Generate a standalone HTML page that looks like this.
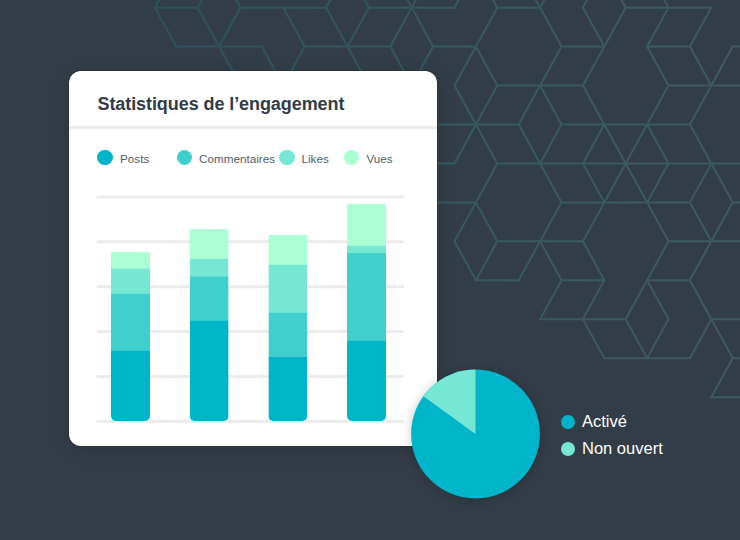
<!DOCTYPE html>
<html><head><meta charset="utf-8">
<style>
html,body{margin:0;padding:0;}
body{width:740px;height:540px;overflow:hidden;background:#333d47;position:relative;font-family:"Liberation Sans",Arial,sans-serif;}
#bg{position:absolute;left:0;top:0;}
.card{position:absolute;left:69px;top:71px;width:368px;height:375px;background:#fff;border-radius:12px;box-shadow:0 0 2px rgba(0,0,0,0.35),0 4px 18px rgba(0,0,0,0.12);}
.title{position:absolute;left:97.5px;top:94px;font-weight:bold;font-size:18px;letter-spacing:-0.08px;color:#313c47;white-space:nowrap;}
.sep{position:absolute;left:69px;top:126px;width:368px;height:3px;background:#ececec;}
.lg{position:absolute;top:151px;height:15px;font-size:12px;color:#48525c;white-space:nowrap;}
.dot{position:absolute;width:15.3px;height:15.3px;border-radius:50%;}
.lt{position:absolute;top:152px;font-size:11.7px;color:#535c66;white-space:nowrap;}
#chart{position:absolute;left:0;top:0;}
.pl{position:absolute;font-size:16.5px;color:#fff;white-space:nowrap;}
</style></head><body>
<svg id="bg" width="740" height="540"><defs><linearGradient id="lg" gradientUnits="userSpaceOnUse" x1="150" y1="0" x2="740" y2="0"><stop offset="0" stop-color="#2b525a"/><stop offset="0.55" stop-color="#355a5e"/><stop offset="1" stop-color="#3e5b5f"/></linearGradient></defs><path fill="none" stroke="url(#lg)" stroke-width="2" stroke-linejoin="miter" stroke-linecap="square" d="M154.9 7.64L176.3 -31.31M154.9 7.64L197.7 7.64M197.7 7.64L219.1 -31.31M154.9 7.64L176.3 46.59M197.7 7.64L219.1 46.59M219.1 46.59L240.5 7.64M219.1 -31.31L240.5 7.64M240.5 7.64L283.3 7.64M176.3 46.59L219.1 46.59M219.1 46.59L261.9 46.59M219.1 46.59L240.5 85.54M261.9 46.59L283.3 85.54M283.3 7.64L304.7 46.59M283.3 85.54L304.7 46.59M283.3 7.64L326.1 7.64M326.1 7.64L347.5 -31.31M326.1 7.64L347.5 46.59M304.7 46.59L347.5 46.59M347.5 46.59L390.3 46.59M368.9 7.64L411.7 7.64M411.7 7.64L454.5 7.64M347.5 -31.31L368.9 7.64M347.5 46.59L368.9 7.64M390.3 -31.31L411.7 7.64M411.7 7.64L433.1 -31.31M390.3 46.59L411.7 7.64M411.7 7.64L433.1 46.59M433.1 46.59L475.9 46.59M411.7 85.54L433.1 46.59M390.3 46.59L411.7 85.54M347.5 46.59L368.9 85.54M454.5 7.64L475.9 -31.31M475.9 -31.31L497.3 7.64M497.3 7.64L540.1 7.64M518.7 -31.31L540.1 7.64M540.1 7.64L561.5 -31.31M582.9 7.64L604.3 -31.31M582.9 7.64L604.3 46.59M475.9 46.59L497.3 7.64M454.5 85.54L475.9 46.59M475.9 46.59L497.3 85.54M540.1 7.64L561.5 46.59M561.5 46.59L604.3 46.59M540.1 85.54L561.5 46.59M582.9 85.54L604.3 46.59M454.5 85.54L475.9 124.49M497.3 85.54L540.1 85.54M475.9 124.49L497.3 85.54M540.1 85.54L582.9 85.54M518.7 124.49L540.1 85.54M540.1 85.54L561.5 124.49M582.9 85.54L604.3 124.49M433.1 124.49L475.9 124.49M475.9 124.49L518.7 124.49M561.5 124.49L604.3 124.49M454.5 163.44L475.9 124.49M475.9 124.49L497.3 163.44M518.7 124.49L540.1 163.44M540.1 163.44L561.5 124.49M582.9 163.44L604.3 124.49M411.7 163.44L454.5 163.44M497.3 163.44L540.1 163.44M540.1 163.44L582.9 163.44M582.9 163.44L625.7 163.44M604.3 -31.31L625.7 7.64M625.7 7.64L668.5 7.64M647.1 -31.31L668.5 7.64M668.5 7.64L711.3 7.64M689.9 46.59L711.3 7.64M604.3 46.59L625.7 7.64M647.1 46.59L668.5 7.64M647.1 46.59L689.9 46.59M647.1 46.59L668.5 85.54M689.9 46.59L711.3 85.54M732.7 46.59L775.5 46.59M711.3 85.54L732.7 46.59M668.5 85.54L711.3 85.54M711.3 85.54L754.1 85.54M647.1 124.49L668.5 85.54M689.9 124.49L711.3 85.54M604.3 124.49L647.1 124.49M647.1 124.49L689.9 124.49M475.9 202.39L497.3 163.44M540.1 163.44L561.5 202.39M582.9 163.44L604.3 202.39M433.1 202.39L475.9 202.39M454.5 241.34L475.9 202.39M475.9 202.39L497.3 241.34M561.5 202.39L604.3 202.39M540.1 241.34L561.5 202.39M582.9 241.34L604.3 202.39M604.3 124.49L625.7 163.44M625.7 163.44L647.1 124.49M647.1 124.49L668.5 163.44M689.9 124.49L711.3 163.44M625.7 163.44L668.5 163.44M668.5 163.44L711.3 163.44M711.3 163.44L754.1 163.44M625.7 163.44L647.1 202.39M604.3 202.39L625.7 163.44M647.1 202.39L668.5 163.44M689.9 202.39L711.3 163.44M711.3 163.44L732.7 202.39M604.3 202.39L647.1 202.39M647.1 202.39L689.9 202.39M732.7 202.39L775.5 202.39M647.1 202.39L668.5 241.34M689.9 202.39L711.3 241.34M711.3 241.34L732.7 202.39M454.5 241.34L475.9 280.29M497.3 241.34L540.1 241.34M475.9 280.29L497.3 241.34M540.1 241.34L582.9 241.34M518.7 280.29L540.1 241.34M540.1 241.34L561.5 280.29M582.9 241.34L604.3 280.29M475.9 280.29L518.7 280.29M561.5 280.29L604.3 280.29M540.1 319.24L561.5 280.29M582.9 319.24L604.3 280.29M540.1 319.24L582.9 319.24M582.9 319.24L625.7 319.24M582.9 319.24L604.3 358.19M668.5 241.34L711.3 241.34M711.3 241.34L754.1 241.34M647.1 280.29L668.5 241.34M689.9 280.29L711.3 241.34M647.1 280.29L689.9 280.29M625.7 319.24L647.1 280.29M647.1 280.29L668.5 319.24M689.9 280.29L711.3 319.24M625.7 319.24L647.1 358.19M647.1 358.19L668.5 319.24M711.3 319.24L754.1 319.24M689.9 358.19L711.3 319.24M711.3 319.24L732.7 358.19M604.3 358.19L647.1 358.19M647.1 358.19L689.9 358.19M732.7 358.19L775.5 358.19M711.3 397.14L732.7 358.19M711.3 397.14L754.1 397.14"/></svg>
<div class="card"></div>
<div class="title">Statistiques de l’engagement</div>
<div class="sep"></div>
<div class="dot" style="left:97.3px;top:150.2px;background:#00b4ca"></div>
<div class="lt" style="left:120px">Posts</div>
<div class="dot" style="left:176.8px;top:150.2px;background:#3fd0cd"></div>
<div class="lt" style="left:199px">Commentaires</div>
<div class="dot" style="left:279.3px;top:150.2px;background:#75e7d2"></div>
<div class="lt" style="left:301.5px">Likes</div>
<div class="dot" style="left:343.6px;top:150.2px;background:#aaffd5"></div>
<div class="lt" style="left:366.5px">Vues</div>
<svg id="chart" width="740" height="540">
<g stroke="#ebebeb" stroke-width="3" stroke-linecap="round">
<line x1="98" y1="196.90" x2="402.5" y2="196.90"/>
<line x1="98" y1="241.78" x2="402.5" y2="241.78"/>
<line x1="98" y1="286.66" x2="402.5" y2="286.66"/>
<line x1="98" y1="331.54" x2="402.5" y2="331.54"/>
<line x1="98" y1="376.42" x2="402.5" y2="376.42"/>
<line x1="98" y1="421.30" x2="402.5" y2="421.30"/>
</g>
<defs>
<clipPath id="bc"><path d="M0 0H39V416A5 5 0 0 1 34 421H5A5 5 0 0 1 0 416Z"/></clipPath>
</defs>
<g clip-path="url(#bc)" transform="translate(111,0)">
<rect x="0" y="252" width="39" height="17" fill="#aaffd5"/>
<rect x="0" y="268.7" width="39" height="25.3" fill="#75e7d2"/>
<rect x="0" y="293.8" width="39" height="57.2" fill="#3fd0cd"/>
<rect x="0" y="350.8" width="39" height="80" fill="#00b4ca"/>
</g>
<g clip-path="url(#bc)" transform="translate(189.7,0)">
<rect x="0" y="229.2" width="39" height="30" fill="#aaffd5"/>
<rect x="0" y="259" width="39" height="17.5" fill="#75e7d2"/>
<rect x="0" y="276.3" width="39" height="44.7" fill="#3fd0cd"/>
<rect x="0" y="320.8" width="39" height="110" fill="#00b4ca"/>
</g>
<g clip-path="url(#bc)" transform="translate(268.3,0)">
<rect x="0" y="235" width="39" height="30" fill="#aaffd5"/>
<rect x="0" y="264.8" width="39" height="48" fill="#75e7d2"/>
<rect x="0" y="312.6" width="39" height="44" fill="#3fd0cd"/>
<rect x="0" y="356.5" width="39" height="80" fill="#00b4ca"/>
</g>
<g clip-path="url(#bc)" transform="translate(347,0)">
<rect x="0" y="204" width="39" height="42" fill="#aaffd5"/>
<rect x="0" y="245.8" width="39" height="7.4" fill="#75e7d2"/>
<rect x="0" y="253" width="39" height="88" fill="#3fd0cd"/>
<rect x="0" y="340.8" width="39" height="90" fill="#00b4ca"/>
</g>
<defs><filter id="ps" x="-30%" y="-30%" width="160%" height="160%"><feGaussianBlur stdDeviation="6"/></filter></defs>
<circle cx="475.5" cy="435.0" r="64.4" fill="rgba(0,0,0,0.2)" filter="url(#ps)"/>
<circle cx="475.5" cy="434.0" r="64.4" fill="#00b4ca"/>
<path d="M475.5 434.0 L475.5 369.6 A64.4 64.4 0 0 0 423.40 396.15 Z" fill="#75e7d2"/>
</svg>
<div class="dot" style="left:561px;top:415px;width:14px;height:14px;background:#00b4ca"></div>
<div class="pl" style="left:582px;top:412px">Activé</div>
<div class="dot" style="left:561px;top:441.6px;width:14px;height:14px;background:#75e7d2"></div>
<div class="pl" style="left:582px;top:439px">Non ouvert</div>
</body></html>
